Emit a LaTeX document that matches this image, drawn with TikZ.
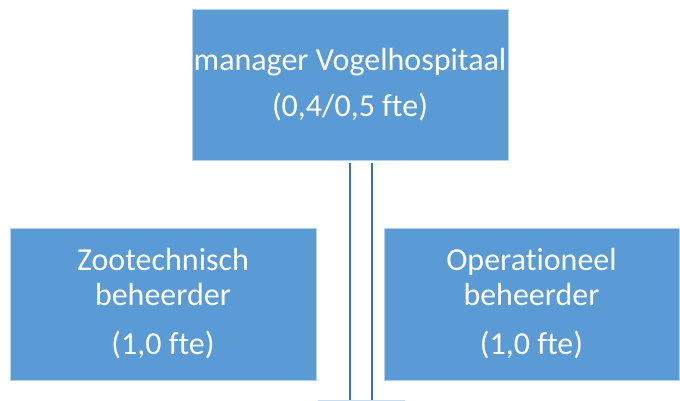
\documentclass[tikz,border=0pt]{standalone}
\usepackage{fontspec}
\setmainfont{Carlito}[Ligatures={NoCommon}]
\usepackage{tikz}
\usetikzlibrary{positioning}
\definecolor{boxblue}{HTML}{5B9BD5}
\definecolor{linkblue}{HTML}{41719C}
\tikzset{unit box/.style={fill=boxblue, draw=boxblue!45!white, line width=0.8pt,
           text=white, align=center, inner sep=0pt,
           font=\fontsize{32}{35}\selectfont}}
\tikzset{unit link/.style={linkblue, line width=2.4pt}}

\begin{document}
\begin{tikzpicture}[x=1pt, y=-1pt]
    \useasboundingbox (0,0) rectangle (680,401);
    %\draw[help lines] (0,0) grid[step=50] (680,401);
    \node[unit box, minimum width=316pt, minimum height=151pt,
          font=\fontsize{32}{46}\selectfont] (manager) at (350,84.5)
      {manager Vogelhospitaal\\(0,4/0,5 fte)};
    \node[unit box, minimum width=306pt, minimum height=152pt] (zoo) at (163,304)
      {Zootechnisch\\beheerder\\[14pt](1,0 fte)};
    \node[unit box, minimum width=295pt, minimum height=152pt] (oper) at (531.5,304)
      {Operationeel\\beheerder\\[14pt](1,0 fte)};

    % the double link runs down past the bottom edge
    \coordinate (footL) at (350,401);
    \coordinate (footR) at (372,401);
    \draw[unit link, shorten <=3pt] (manager.south -| footL) -- (footL);
    \draw[unit link, shorten <=3pt] (manager.south -| footR) -- (footR);
    \coordinate (edgeA) at (318,400);
    \coordinate (edgeB) at (405,400);
    \draw[boxblue!35!white, line width=1pt] (edgeA) -- (edgeB);
  \end{tikzpicture}
\end{document}
